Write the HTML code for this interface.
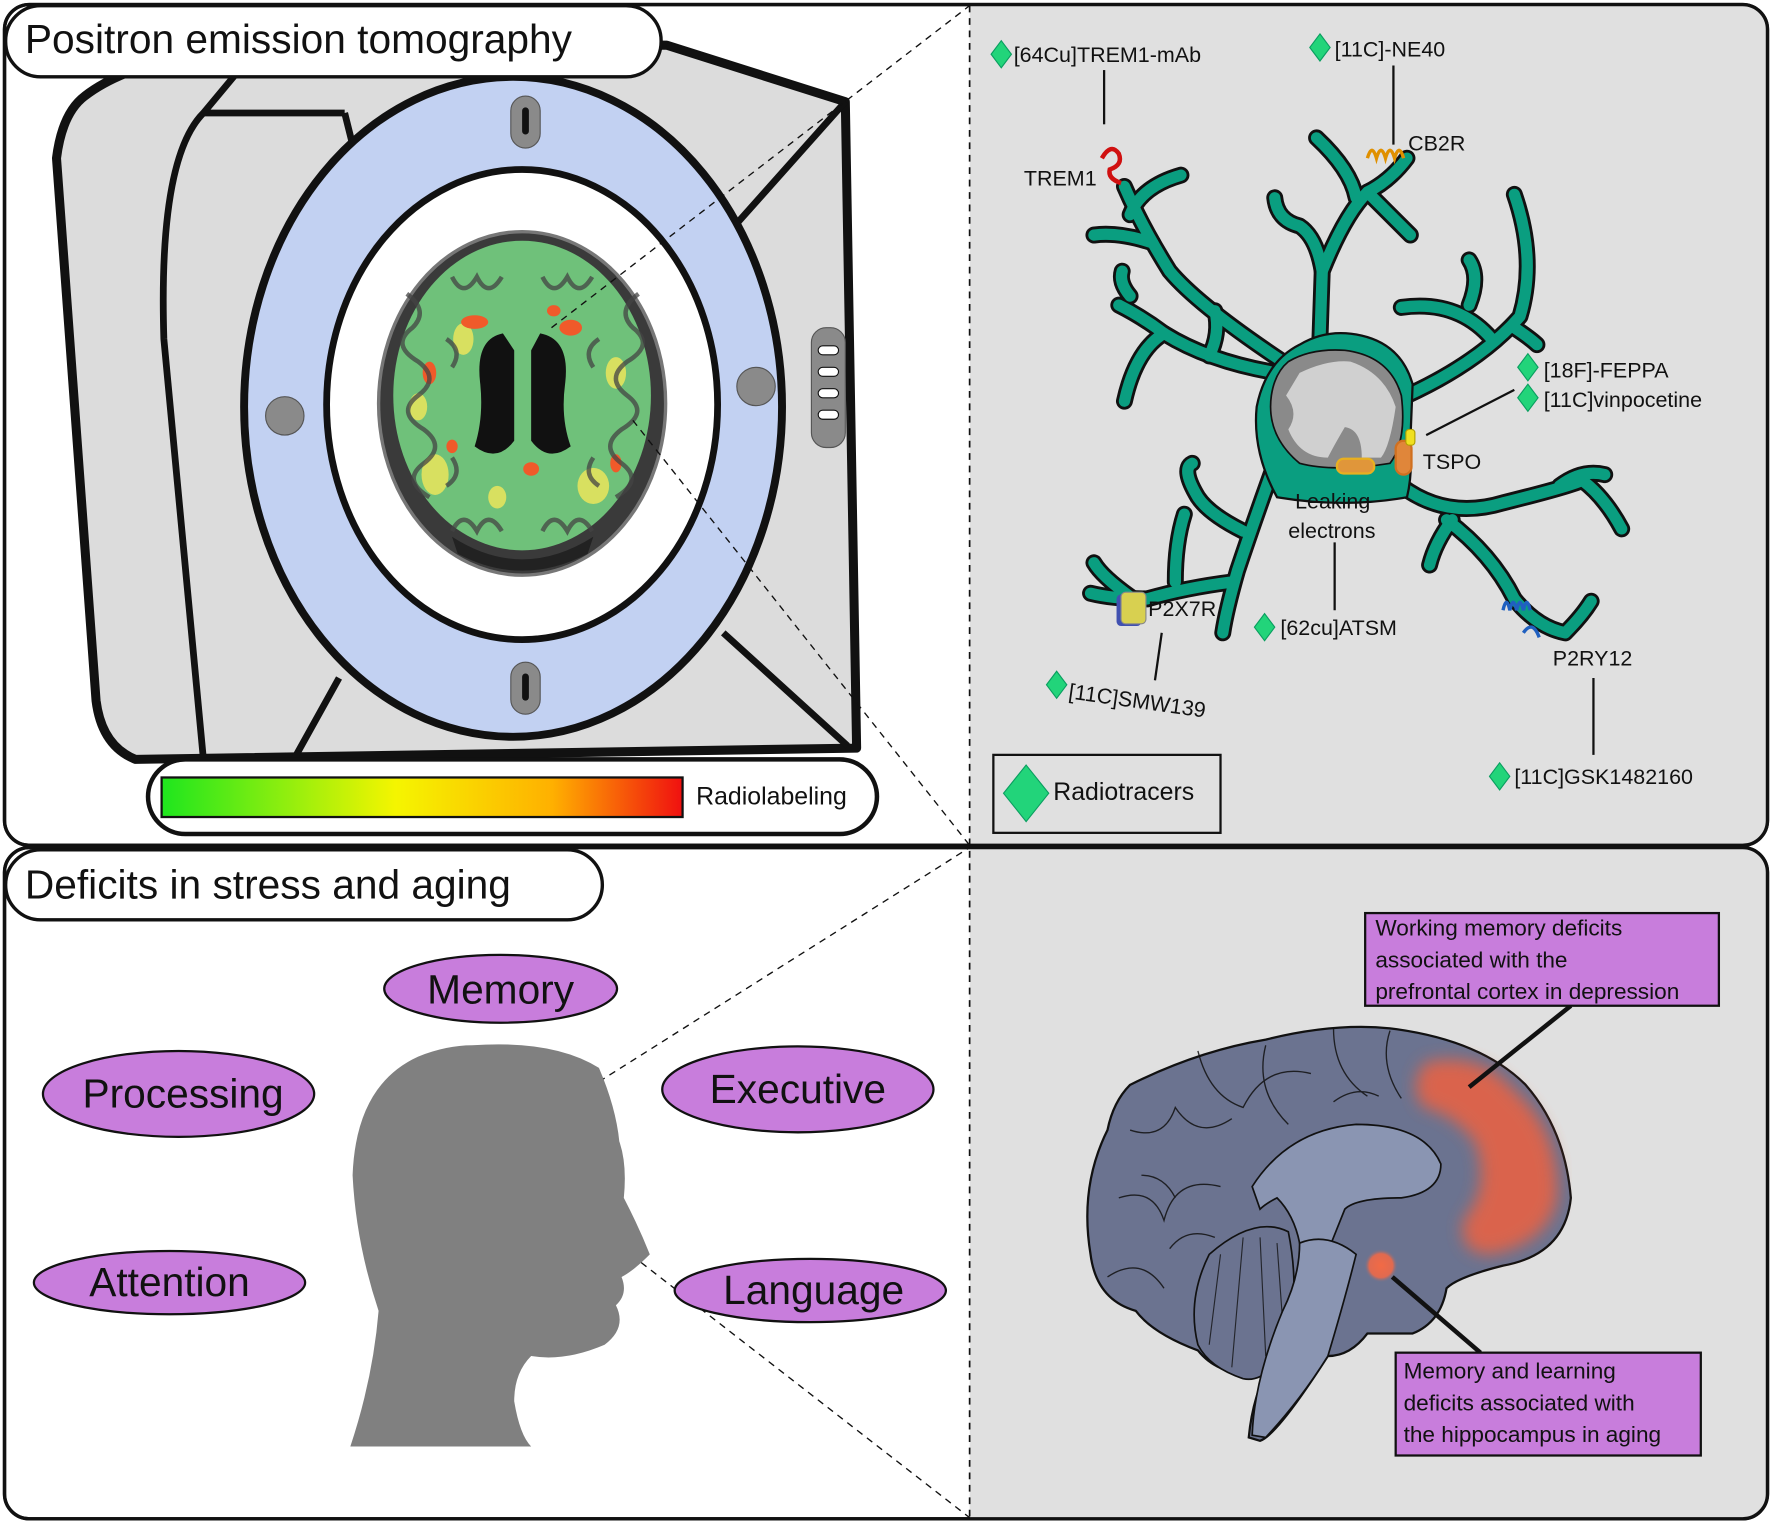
<!DOCTYPE html>
<html><head><meta charset="utf-8"><style>
html,body{margin:0;padding:0;background:#fff}
svg{display:block}
text{font-family:"Liberation Sans",sans-serif;fill:#111}
</style></head><body>
<svg width="1772" height="1525" viewBox="0 0 1568 1349.5" preserveAspectRatio="none" xmlns="http://www.w3.org/2000/svg">
<defs>
<linearGradient id="rad" x1="0" x2="1"><stop offset="0" stop-color="#1ee61e"/><stop offset="0.45" stop-color="#f5f500"/><stop offset="0.75" stop-color="#ffb000"/><stop offset="1" stop-color="#f01010"/></linearGradient>
<radialGradient id="hot"><stop offset="0" stop-color="#f26a45"/><stop offset="0.7" stop-color="#e06a50"/><stop offset="1" stop-color="#6b7390" stop-opacity="0"/></radialGradient>
<filter id="blur"><feGaussianBlur stdDeviation="7"/></filter>
</defs>
<!-- panels -->
<rect x="4" y="4" width="1560" height="744" rx="22" fill="#fff" stroke="#111" stroke-width="3"/>
<path d="M858 5 H1542 Q1563 5 1563 26 V726 Q1563 747 1542 747 H858 Z" fill="#e0e0e0"/>
<rect x="4" y="750" width="1560" height="594" rx="22" fill="#fff" stroke="#111" stroke-width="3"/>
<path d="M858 751 H1542 Q1563 751 1563 772 V1322 Q1563 1343 1542 1343 H858 Z" fill="#e0e0e0"/>
<line x1="858" y1="5" x2="858" y2="1343" stroke="#111" stroke-width="1.5" stroke-dasharray="6,5"/>
<rect x="4" y="4" width="1560" height="744" rx="22" fill="none" stroke="#111" stroke-width="3"/>
<rect x="4" y="750" width="1560" height="594" rx="22" fill="none" stroke="#111" stroke-width="3"/>

<!-- PET scanner -->
<path d="M75 85 Q120 50 230 40 L590 40 L748 90 L758 662 L120 672 Q90 660 85 620 L50 140 Q55 100 75 85 Z" fill="#dcdcdc" stroke="#111" stroke-width="8" stroke-linejoin="round"/>
<path d="M180 100 L305 100 M180 100 Q140 140 145 300 L180 672 M230 40 L180 100 M590 40 L748 90 M748 90 L650 200 M305 100 L320 160 M640 560 L750 660 M260 672 L300 600" fill="none" stroke="#111" stroke-width="6"/>
<ellipse cx="454" cy="360" rx="238" ry="292" fill="#c2d1f2" stroke="#111" stroke-width="7"/>
<ellipse cx="462" cy="358" rx="173" ry="208" fill="#fff" stroke="#111" stroke-width="6"/>
<rect x="452" y="85" width="26" height="46" rx="13" fill="#8a8a8a" stroke="#555"/><rect x="462" y="95" width="6" height="24" rx="3" fill="#111"/>
<rect x="452" y="586" width="26" height="46" rx="13" fill="#8a8a8a" stroke="#555"/><rect x="462" y="596" width="6" height="24" rx="3" fill="#111"/>
<circle cx="252" cy="368" r="17" fill="#8a8a8a" stroke="#555"/><circle cx="669" cy="342" r="17" fill="#8a8a8a" stroke="#555"/>
<rect x="718" y="290" width="30" height="106" rx="13" fill="#8a8a8a" stroke="#555"/>
<g fill="#fff" stroke="#111"><rect x="724" y="306" width="18" height="8" rx="4"/><rect x="724" y="325" width="18" height="8" rx="4"/><rect x="724" y="344" width="18" height="8" rx="4"/><rect x="724" y="363" width="18" height="8" rx="4"/></g>
<!-- brain axial -->
<ellipse cx="462" cy="357" rx="127" ry="152" fill="#3a3a3a" stroke="#777" stroke-width="3"/>
<ellipse cx="462" cy="350" rx="114" ry="137" fill="#6fc17a"/>
<g fill="#d8e060"><ellipse cx="385" cy="420" rx="12" ry="18"/><ellipse cx="525" cy="430" rx="14" ry="16"/><ellipse cx="410" cy="300" rx="9" ry="14"/><ellipse cx="545" cy="330" rx="9" ry="14"/><ellipse cx="440" cy="440" rx="8" ry="10"/><ellipse cx="370" cy="360" rx="8" ry="12"/></g>
<g fill="#f05a2a"><ellipse cx="420" cy="285" rx="12" ry="6"/><ellipse cx="505" cy="290" rx="10" ry="7"/><ellipse cx="380" cy="330" rx="6" ry="10"/><ellipse cx="470" cy="415" rx="7" ry="6"/><ellipse cx="545" cy="410" rx="5" ry="8"/><ellipse cx="400" cy="395" rx="5" ry="6"/><ellipse cx="490" cy="275" rx="6" ry="5"/></g>
<g fill="none" stroke="#444" stroke-width="4" opacity="0.75">
<path d="M360 260 q20 15 5 30 q-20 15 5 30 q20 15 0 30 q-20 15 5 30 q20 15 0 30 q-20 15 5 30"/>
<path d="M565 260 q-20 15 -5 30 q20 15 -5 30 q-20 15 0 30 q20 15 -5 30 q-20 15 0 30 q20 15 -5 30"/>
<path d="M400 245 q10 20 22 0 q10 20 22 0 M480 245 q10 20 22 0 q10 20 22 0"/>
<path d="M400 470 q10 -20 22 0 q10 -20 22 0 M480 470 q10 -20 22 0 q10 -20 22 0"/>
<path d="M395 300 q15 10 5 25 M530 300 q-15 10 -5 25 M395 430 q15 -10 5 -25 M530 430 q-15 -10 -5 -25"/></g>
<path d="M445 295 Q420 300 425 340 Q428 370 420 395 Q440 410 455 390 L455 310 Z" fill="#111"/>
<path d="M478 295 Q505 300 500 340 Q496 370 505 395 Q485 410 470 390 L470 310 Z" fill="#111"/>
<path d="M400 475 Q462 515 525 475 L520 490 Q462 520 405 490 Z" fill="#222"/>
<!-- dashed zoom lines -->
<g stroke="#111" stroke-width="1.2" stroke-dasharray="6,5" fill="none"><line x1="488" y1="290" x2="858" y2="5"/><line x1="560" y1="372" x2="858" y2="748"/><line x1="437" y1="1016" x2="858" y2="750"/><line x1="437" y1="1016" x2="858" y2="1343"/></g>
<!-- colorbar -->
<rect x="131" y="672" width="645" height="66" rx="33" fill="#fff" stroke="#111" stroke-width="4"/>
<rect x="143" y="688" width="461" height="35" fill="url(#rad)" stroke="#111" stroke-width="2"/>
<text x="616" y="712" font-size="22">Radiolabeling</text>
<!-- title pills -->
<rect x="5" y="5" width="580" height="63" rx="31" fill="#fff" stroke="#111" stroke-width="3"/>
<text x="22" y="47" font-size="36">Positron emission tomography</text>
<rect x="5" y="752" width="528" height="62" rx="31" fill="#fff" stroke="#111" stroke-width="3"/>
<text x="22" y="795" font-size="36">Deficits in stress and aging</text>

<!-- microglia -->
<g fill="none" stroke-linecap="round" stroke-linejoin="round">
<g stroke="#111" stroke-width="15">
<path d="M1135 320 Q1060 270 1035 240 Q1010 200 995 165"/><path d="M1020 215 Q990 205 968 208"/><path d="M1000 190 Q1010 165 1045 155"/>
<path d="M1168 300 L1170 240 Q1190 190 1210 170 Q1230 160 1245 140"/><path d="M1170 240 Q1165 210 1150 200 Q1130 195 1128 175"/><path d="M1200 175 Q1195 150 1165 122"/><path d="M1210 170 Q1230 190 1248 208"/>
<path d="M1130 330 Q1070 320 1030 295 Q1010 280 990 270"/><path d="M1030 295 Q1005 310 995 355"/><path d="M1070 315 Q1080 295 1075 275"/><path d="M1000 262 Q990 250 993 240"/>
<path d="M1245 350 Q1310 320 1345 280 Q1360 230 1340 172"/><path d="M1320 300 Q1290 265 1240 272"/><path d="M1340 290 Q1355 300 1360 305"/><path d="M1300 270 Q1310 245 1300 230"/>
<path d="M1130 405 Q1110 460 1095 505 Q1085 540 1082 560"/><path d="M1100 470 Q1070 455 1060 440 Q1045 415 1055 410"/><path d="M1090 515 Q1050 520 1015 530 Q985 530 965 525"/><path d="M1040 515 Q1040 480 1048 455"/><path d="M1000 528 Q975 510 968 498"/>
<path d="M1240 430 Q1280 460 1330 445 Q1390 430 1400 425 Q1420 440 1435 468"/><path d="M1280 460 Q1320 490 1340 530 Q1360 555 1385 560 Q1400 545 1408 532"/><path d="M1285 460 Q1270 480 1265 500"/><path d="M1380 430 Q1400 415 1420 420"/>
</g>
<g stroke="#0a9e80" stroke-width="10">
<path d="M1135 320 Q1060 270 1035 240 Q1010 200 995 165"/><path d="M1020 215 Q990 205 968 208"/><path d="M1000 190 Q1010 165 1045 155"/>
<path d="M1168 300 L1170 240 Q1190 190 1210 170 Q1230 160 1245 140"/><path d="M1170 240 Q1165 210 1150 200 Q1130 195 1128 175"/><path d="M1200 175 Q1195 150 1165 122"/><path d="M1210 170 Q1230 190 1248 208"/>
<path d="M1130 330 Q1070 320 1030 295 Q1010 280 990 270"/><path d="M1030 295 Q1005 310 995 355"/><path d="M1070 315 Q1080 295 1075 275"/><path d="M1000 262 Q990 250 993 240"/>
<path d="M1245 350 Q1310 320 1345 280 Q1360 230 1340 172"/><path d="M1320 300 Q1290 265 1240 272"/><path d="M1340 290 Q1355 300 1360 305"/><path d="M1300 270 Q1310 245 1300 230"/>
<path d="M1130 405 Q1110 460 1095 505 Q1085 540 1082 560"/><path d="M1100 470 Q1070 455 1060 440 Q1045 415 1055 410"/><path d="M1090 515 Q1050 520 1015 530 Q985 530 965 525"/><path d="M1040 515 Q1040 480 1048 455"/><path d="M1000 528 Q975 510 968 498"/>
<path d="M1240 430 Q1280 460 1330 445 Q1390 430 1400 425 Q1420 440 1435 468"/><path d="M1280 460 Q1320 490 1340 530 Q1360 555 1385 560 Q1400 545 1408 532"/><path d="M1285 460 Q1270 480 1265 500"/><path d="M1380 430 Q1400 415 1420 420"/>
</g></g>
<path d="M1150 305 Q1175 290 1205 297 Q1240 305 1250 340 L1248 390 Q1250 420 1245 440 Q1190 450 1130 440 Q1108 400 1112 360 Q1120 320 1150 305 Z" fill="#0a9e80" stroke="#111" stroke-width="2"/>
<path d="M1140 320 Q1160 308 1190 310 Q1230 315 1240 350 Q1245 390 1230 410 Q1180 418 1150 410 Q1120 385 1125 350 Q1128 330 1140 320 Z" fill="#8a8a8a" stroke="#111" stroke-width="1.5"/>
<path d="M1150 330 Q1175 318 1195 320 Q1225 330 1235 360 Q1230 395 1222 405 L1205 405 Q1205 380 1190 378 Q1180 395 1175 405 Q1150 405 1140 380 Q1150 365 1138 350 Z" fill="#d0d0d0"/>
<rect x="1183" y="406" width="33" height="13" rx="6" fill="#e0963a" stroke="#e8b020" stroke-width="2"/>
<rect x="1235" y="390" width="14" height="30" rx="7" fill="#e0863a" stroke="#d07020" stroke-width="2"/>
<rect x="1244" y="380" width="8" height="14" rx="3" fill="#f0e020" stroke="#b0a000"/>
<path d="M975 140 q8 -14 15 -4 q4 10 -8 14 q-2 8 10 12" fill="none" stroke="#d01010" stroke-width="4"/>
<path d="M1210 140 q4 -14 8 0 q4 -14 8 0 q4 -14 8 0 q4 -14 8 0" fill="none" stroke="#e09000" stroke-width="3"/>
<path d="M1330 540 q3 -14 6 0 q3 -14 6 0 q3 -14 6 0 q3 -14 6 0 M1348 560 q8 -12 14 4" fill="none" stroke="#2060c0" stroke-width="3"/>
<rect x="988" y="526" width="22" height="28" rx="4" fill="#4050b0"/><rect x="992" y="524" width="22" height="28" rx="4" fill="#d8d050" stroke="#888"/>

<!-- labels and lines -->
<g stroke="#111" stroke-width="2"><line x1="977" y1="62" x2="977" y2="110"/><line x1="1233" y1="58" x2="1233" y2="128"/><line x1="1340" y1="345" x2="1262" y2="385"/><line x1="1181" y1="480" x2="1181" y2="540"/><line x1="1028" y1="560" x2="1022" y2="602"/><line x1="1410" y1="600" x2="1410" y2="668"/></g>
<g font-size="19">
<text x="897" y="55">[64Cu]TREM1-mAb</text><text x="1181" y="50">[11C]-NE40</text>
<text x="906" y="164">TREM1</text><text x="1246" y="133">CB2R</text>
<text x="1366" y="334">[18F]-FEPPA</text><text x="1366" y="360">[11C]vinpocetine</text>
<text x="1259" y="415">TSPO</text><text x="1146" y="450">Leaking</text><text x="1140" y="476">electrons</text>
<text x="1016" y="545">P2X7R</text><text x="1133" y="562">[62cu]ATSM</text>
<text x="945" y="618" transform="rotate(8 945 618)">[11C]SMW139</text>
<text x="1374" y="589">P2RY12</text><text x="1340" y="694">[11C]GSK1482160</text>
</g>
<g fill="#22d47a" stroke="#0a9e60" stroke-width="1">
<path d="M886 36 l9 12 l-9 12 l-9 -12 Z"/><path d="M1168 30 l9 12 l-9 12 l-9 -12 Z"/><path d="M1352 313 l9 12 l-9 12 l-9 -12 Z"/><path d="M1352 340 l9 12 l-9 12 l-9 -12 Z"/><path d="M1119 543 l9 12 l-9 12 l-9 -12 Z"/><path d="M935 594 l9 12 l-9 12 l-9 -12 Z"/><path d="M1327 675 l9 12 l-9 12 l-9 -12 Z"/>
</g>
<rect x="879" y="668" width="201" height="69" fill="none" stroke="#111" stroke-width="2"/>
<path d="M908 677 l20 25 l-20 25 l-20 -25 Z" fill="#22d47a" stroke="#0a9e60"/>
<text x="932" y="708" font-size="22">Radiotracers</text>

<!-- bottom left -->
<g fill="#c87ddc" stroke="#111" stroke-width="2">
<ellipse cx="443" cy="875" rx="103" ry="30"/><ellipse cx="158" cy="968" rx="120" ry="38"/><ellipse cx="706" cy="964" rx="120" ry="38"/><ellipse cx="150" cy="1135" rx="120" ry="28"/><ellipse cx="717" cy="1142" rx="120" ry="28"/>
</g>
<g font-size="36" text-anchor="middle"><text x="443" y="888">Memory</text><text x="162" y="980">Processing</text><text x="706" y="976">Executive</text><text x="150" y="1147">Attention</text><text x="720" y="1154">Language</text></g>
<path d="M418 925 Q490 920 530 945 Q545 980 548 1010 Q555 1030 552 1060 Q565 1085 575 1110 Q560 1125 550 1130 Q556 1145 545 1155 Q555 1175 535 1190 Q500 1205 470 1200 Q455 1215 455 1240 Q460 1270 470 1280 L310 1280 Q330 1220 335 1160 Q315 1100 312 1040 Q315 960 370 935 Q395 925 418 925 Z" fill="#808080"/>

<!-- bottom right brain -->
<path d="M1000 960 Q1060 930 1120 920 Q1180 905 1230 910 Q1310 920 1350 960 Q1385 1000 1390 1060 Q1385 1110 1330 1120 Q1290 1130 1280 1140 Q1275 1170 1250 1180 L1210 1180 Q1195 1200 1175 1200 Q1130 1270 1115 1275 L1105 1272 Q1108 1240 1120 1215 Q1080 1220 1060 1195 Q1020 1180 1005 1160 Q970 1150 965 1110 Q955 1050 980 1000 Q985 975 1000 960 Z" fill="#6b7390" stroke="#111" stroke-width="2"/>
<!-- cerebellum -->
<path d="M1070 1110 Q1110 1075 1140 1090 Q1150 1140 1140 1180 Q1125 1225 1100 1220 Q1070 1210 1060 1190 Q1050 1150 1070 1110 Z" fill="#6b7390" stroke="#111" stroke-width="1.5"/>
<g fill="none" stroke="#111" stroke-width="1" opacity="0.8"><path d="M1100 1095 L1090 1210 M1115 1095 L1120 1200 M1080 1110 L1070 1190 M1130 1100 L1135 1170"/></g>
<path d="M1108 1050 Q1140 1000 1200 995 Q1260 995 1275 1030 Q1275 1055 1240 1060 Q1200 1060 1190 1070 L1178 1100 Q1170 1095 1150 1100 Q1145 1075 1130 1060 Q1120 1065 1115 1070 Z" fill="#8a95b2" stroke="#111" stroke-width="1.5"/>
<path d="M1150 1100 Q1175 1090 1200 1110 Q1190 1150 1175 1200 Q1150 1240 1120 1272 L1108 1270 Q1110 1220 1135 1160 Q1150 1130 1150 1100 Z" fill="#8a95b2" stroke="#111" stroke-width="1.5"/>
<g fill="none" stroke="#111" stroke-width="1.2" opacity="0.85">
<path d="M1000 1000 q30 10 40 -20 q20 30 50 10"/><path d="M990 1060 q30 -10 40 20 q10 -40 50 -30"/><path d="M1060 930 q10 40 40 50 q20 -40 60 -30"/><path d="M1180 910 q0 40 30 60"/><path d="M980 1130 q30 -20 50 10"/>
<path d="M1120 925 q-10 40 20 70 M1230 912 q-10 30 10 60 M1010 1040 q20 0 30 20 M1035 1105 q15 -20 40 -10 M1180 975 q20 -15 40 -5"/></g>
<path d="M1262 940 Q1310 930 1340 965 Q1380 1000 1378 1060 Q1370 1100 1320 1110 Q1290 1110 1295 1080 Q1320 1050 1305 1010 Q1285 985 1260 980 Q1245 960 1262 940 Z" fill="#e0634a" filter="url(#blur)" opacity="0.95"/>
<circle cx="1222" cy="1120" r="15" fill="url(#hot)"/>
<g stroke="#111" stroke-width="4"><line x1="1390" y1="890" x2="1300" y2="962"/><line x1="1232" y1="1130" x2="1310" y2="1197"/></g>
<rect x="1208" y="808" width="313" height="82" fill="#c87ddc" stroke="#111" stroke-width="2"/>
<rect x="1235" y="1197" width="270" height="91" fill="#c87ddc" stroke="#111" stroke-width="2"/>
<g font-size="20"><text x="1217" y="828">Working memory deficits</text><text x="1217" y="856">associated with the</text><text x="1217" y="884">prefrontal cortex in depression</text>
<text x="1242" y="1220">Memory and learning</text><text x="1242" y="1248">deficits associated with</text><text x="1242" y="1276">the hippocampus in aging</text></g>
</svg>
</body></html>
